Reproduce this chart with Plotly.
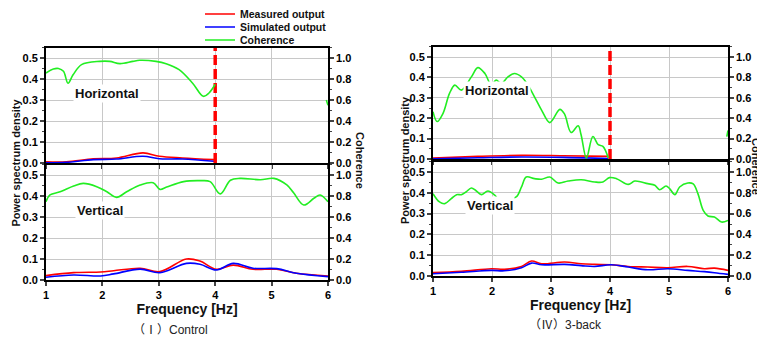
import plotly.graph_objects as go

# ---------------- data ----------------
cutoff_hz = 4.0

# (I) Control - Horizontal
c_h_coh_f = [1.0, 1.13, 1.22, 1.31, 1.39, 1.48, 1.63, 1.95, 2.13, 2.31, 2.54, 2.66, 2.95, 3.13, 3.36, 3.6, 3.79, 3.89, 4.0]
c_h_coh = [0.857, 0.895, 0.9, 0.873, 0.76, 0.84, 0.937, 0.968, 0.968, 0.946, 0.968, 0.978, 0.968, 0.946, 0.889, 0.76, 0.635, 0.667, 0.75]
c_h_f = [1.0, 1.36, 1.84, 2.25, 2.72, 3.01, 3.42, 3.98]
c_h_meas = [0.006, 0.006, 0.02, 0.024, 0.048, 0.032, 0.024, 0.016]
c_h_sim = [0.001, 0.003, 0.016, 0.019, 0.032, 0.02, 0.019, 0.008]
c_h_tail_f = [5.97, 6.0]
c_h_tail = [0.6, 0.55]

# (I) Control - Vertical
c_v_coh_f = [1.0, 1.07, 1.25, 1.49, 1.66, 1.9, 2.08, 2.25, 2.43, 2.67, 2.9, 3.02, 3.14, 3.44, 3.73, 3.91, 4.09,
             4.27, 4.44, 4.8, 5.04, 5.27, 5.39, 5.57, 5.75, 5.86, 6.0]
c_v_coh = [0.746, 0.81, 0.84, 0.895, 0.92, 0.889, 0.84, 0.787, 0.84, 0.905, 0.927, 0.863, 0.885, 0.937, 0.946, 0.937, 0.82,
           0.95, 0.968, 0.955, 0.968, 0.905, 0.83, 0.714, 0.778, 0.81, 0.746]
c_v_f = [1.0, 1.49, 1.97, 2.2, 2.67, 3.02, 3.49, 3.73, 4.02, 4.32, 4.67, 5.09, 5.44, 6.0]
c_v_meas = [0.021, 0.035, 0.038, 0.044, 0.056, 0.04, 0.1, 0.09, 0.051, 0.071, 0.051, 0.051, 0.032, 0.019]
c_v_sim = [0.013, 0.024, 0.019, 0.029, 0.052, 0.035, 0.079, 0.075, 0.048, 0.079, 0.056, 0.054, 0.032, 0.016]

# (IV) 3-back - Horizontal
b_h_coh_f = [1.0, 1.07, 1.17, 1.28, 1.37, 1.48, 1.65, 1.76, 1.88, 1.99, 2.07, 2.16, 2.27, 2.38, 2.5, 2.61, 2.72,
             2.84, 2.98, 3.15, 3.23, 3.34, 3.46, 3.51, 3.6, 3.71, 3.8, 3.88, 3.97]
b_h_coh = [0.464, 0.367, 0.448, 0.643, 0.724, 0.675, 0.805, 0.896, 0.838, 0.724, 0.773, 0.74, 0.805, 0.838, 0.805,
           0.724, 0.61, 0.48, 0.357, 0.487, 0.44, 0.26, 0.325, 0.237, 0.01, 0.22, 0.14, 0.123, 0.01]
b_h_f = [1.0, 1.76, 2.5, 3.2, 3.97]
b_h_meas = [0.005, 0.013, 0.018, 0.016, 0.013]
b_h_sim = [0.001, 0.006, 0.01, 0.008, 0.002]
b_h_tail_f = [5.98, 6.0]
b_h_tail = [0.22, 0.28]

# (IV) 3-back - Vertical
b_v_coh_f = [1.0, 1.11, 1.2, 1.31, 1.4, 1.48, 1.56, 1.65, 1.73, 1.82, 1.93, 2.05, 2.1, 2.19, 2.27, 2.41, 2.5, 2.58,
             2.72, 2.84, 2.98, 3.12, 3.29, 3.51, 3.74, 3.88, 3.99, 4.11, 4.31, 4.42, 4.64, 4.76, 4.84, 4.95, 5.01,
             5.1, 5.18, 5.32, 5.41, 5.49, 5.58, 5.66, 5.77, 5.89, 6.0]
b_v_coh = [0.792, 0.712, 0.696, 0.744, 0.782, 0.782, 0.808, 0.846, 0.82, 0.782, 0.817, 0.776, 0.744, 0.752, 0.744,
           0.76, 0.856, 0.952, 0.936, 0.93, 0.952, 0.894, 0.913, 0.926, 0.904, 0.904, 0.946, 0.936, 0.881, 0.913,
           0.888, 0.872, 0.83, 0.865, 0.84, 0.782, 0.856, 0.894, 0.885, 0.792, 0.631, 0.577, 0.567, 0.519, 0.535]
b_v_f = [1.0, 1.48, 1.99, 2.21, 2.5, 2.67, 2.84, 3.23, 3.51, 3.74, 4.02, 4.31, 4.64, 4.98, 5.32, 5.6, 5.77, 6.0]
b_v_meas = [0.016, 0.022, 0.035, 0.032, 0.046, 0.072, 0.059, 0.067, 0.059, 0.056, 0.054, 0.046, 0.043, 0.04, 0.046,
            0.035, 0.038, 0.027]
b_v_sim = [0.011, 0.018, 0.027, 0.025, 0.04, 0.062, 0.054, 0.056, 0.05, 0.046, 0.054, 0.043, 0.03, 0.035, 0.027,
           0.021, 0.016, 0.008]

x_ticks = [1, 2, 3, 4, 5, 6]
psd_ticks = [0.0, 0.1, 0.2, 0.3, 0.4, 0.5]
coh_ticks = [0.0, 0.2, 0.4, 0.6, 0.8, 1.0]

RED = "#ff0000"
BLUE = "#0000ff"
GREEN = "#22ee22"
FONT = "Liberation Sans"

# the page body has an 8px default margin: lay out in window pixels, offset by it
OFF = 8
W, H = 765 - OFF, 341 - OFF


def px(x):
    return (x - OFF) / W


def py(y):
    return 1 - (y - OFF) / H


fig = go.Figure()

# panel geometry (window pixels)
panels = [
    dict(x0=46, x1=328, top=(47.5, 163), bot=(164.5, 280)),
    dict(x0=433, x1=728, top=(46.8, 159), bot=(161.6, 276)),
]

datasets = [
    [(c_h_f, c_h_meas, c_h_sim, c_h_coh_f, c_h_coh, (c_h_tail_f, c_h_tail)),
     (c_v_f, c_v_meas, c_v_sim, c_v_coh_f, c_v_coh, None)],
    [(b_h_f, b_h_meas, b_h_sim, b_h_coh_f, b_h_coh, (b_h_tail_f, b_h_tail)),
     (b_v_f, b_v_meas, b_v_sim, b_v_coh_f, b_v_coh, None)],
]

tickfont = dict(family=FONT, size=11, color="black", weight="bold")
layout_axes = {}
idx = 0
first = True
for p_i, panel in enumerate(panels):
    for s_i, key in enumerate(["top", "bot"]):
        idx += 1
        xa = f"x{idx}" if idx > 1 else "x"
        ya = f"y{idx}" if idx > 1 else "y"
        ya2_n = idx + 4
        ya2 = f"y{ya2_n}"
        y_top, y_bot = panel[key]
        xdom = [px(panel["x0"]), px(panel["x1"])]
        ydom = [py(y_bot), py(y_top)]
        is_bottom = key == "bot"
        layout_axes[f"xaxis{idx if idx > 1 else ''}"] = dict(
            domain=xdom, anchor=ya, range=[1, 6], tickvals=x_ticks,
            showticklabels=is_bottom, ticks="outside", ticklen=4, tickwidth=1.5,
            showline=True, linecolor="black", linewidth=1.8, mirror=True,
            showgrid=True, gridcolor="#c8c8c8", gridwidth=1, zeroline=False,
            tickfont=tickfont,
            title=dict(text="Frequency [Hz]", font=dict(family=FONT, size=14, weight="bold", color="#111111"),
                       standoff=0) if is_bottom else None,
        )
        layout_axes[f"yaxis{idx if idx > 1 else ''}"] = dict(
            domain=ydom, anchor=xa, range=[0, 0.55], tickvals=psd_ticks, tickformat=".1f",
            ticks="outside", ticklen=4, tickwidth=1.5,
            minor=dict(ticks="outside", ticklen=2, dtick=0.05, tickwidth=1, showgrid=False),
            showline=True, linecolor="black", linewidth=1.8, mirror=True,
            showgrid=True, gridcolor="#c8c8c8", gridwidth=1, zeroline=False,
            tickfont=tickfont,
        )
        layout_axes[f"yaxis{ya2_n}"] = dict(
            domain=ydom, anchor=xa, overlaying=ya, side="right", range=[0, 1.1],
            tickvals=coh_ticks, tickformat=".1f",
            ticks="outside", ticklen=4, tickwidth=1.5,
            minor=dict(ticks="outside", ticklen=2, dtick=0.1, tickwidth=1, showgrid=False),
            showline=True, linecolor="black", linewidth=1.8, showgrid=False, zeroline=False,
            tickfont=tickfont,
        )

        f, meas, sim, cf, coh, tail = datasets[p_i][s_i]
        fig.add_trace(go.Scatter(x=f, y=meas, mode="lines", line=dict(color=RED, width=1.6, shape="spline"),
                                 name="Measured output", showlegend=first, legend="legend",
                                 xaxis=xa, yaxis=ya))
        fig.add_trace(go.Scatter(x=f, y=sim, mode="lines", line=dict(color=BLUE, width=1.6, shape="spline"),
                                 name="Simulated output", showlegend=first, legend="legend2",
                                 xaxis=xa, yaxis=ya))
        fig.add_trace(go.Scatter(x=cf, y=coh, mode="lines", line=dict(color=GREEN, width=1.6, shape="spline"),
                                 name="Coherence", showlegend=first, legend="legend3",
                                 xaxis=xa, yaxis=ya2))
        if tail is not None:
            fig.add_trace(go.Scatter(x=tail[0], y=tail[1], mode="lines", line=dict(color=GREEN, width=1.6),
                                     showlegend=False, xaxis=xa, yaxis=ya2))
        if key == "top":
            fig.add_trace(go.Scatter(x=[cutoff_hz, cutoff_hz], y=[0, 0.55], mode="lines",
                                     line=dict(color=RED, width=3.5, dash="10px,4px"),
                                     showlegend=False, xaxis=xa, yaxis=ya))
        first = False

# region labels
labels = [
    ("Horizontal", "x", "y", 2.08, 0.333),
    ("Vertical", "x2", "y2", 1.95, 0.333),
    ("Horizontal", "x3", "y3", 2.08, 0.335),
    ("Vertical", "x4", "y4", 1.96, 0.338),
]
annotations = []
for text, xr, yr, xv, yv in labels:
    annotations.append(dict(text=text, xref=xr, yref=yr, x=xv, y=yv, showarrow=False,
                            xanchor="center", yanchor="middle",
                            bgcolor="white", borderpad=1,
                            font=dict(family=FONT, size=13, weight="bold", color="#111111")))

axis_title_font = dict(family=FONT, size=11, weight="bold", color="#111111")
for cx, cy in [(15.5, 163), (405, 160)]:
    annotations.append(dict(text="Power spectrum density", xref="paper", yref="paper", x=px(cx), y=py(cy),
                            xanchor="center", yanchor="middle", borderpad=0,
                            textangle=-90, showarrow=False, font=axis_title_font))
for cx, cy in [(360, 160), (756, 166)]:
    annotations.append(dict(text="Coherence", xref="paper", yref="paper", x=px(cx), y=py(cy),
                            xanchor="center", yanchor="middle", borderpad=0,
                            textangle=90, showarrow=False, font=axis_title_font))
captions = [("（Ⅰ）Control", 170, 330), ("（Ⅳ）3-back", 565, 325)]
for text, cx, cy in captions:
    annotations.append(dict(text=text, xref="paper", yref="paper", x=px(cx), y=py(cy), showarrow=False,
                            xanchor="center", yanchor="middle",
                            font=dict(family="Liberation Sans, Noto Sans CJK JP", size=12, color="#222222")))

legend_font = dict(family=FONT, size=10.5, weight="bold", color="#111111")
legend_rows = {"legend": 14, "legend2": 27, "legend3": 40}
legend_layout = {}
for name, row_y in legend_rows.items():
    legend_layout[name] = dict(x=px(200), y=py(row_y), xanchor="left", yanchor="middle",
                               bgcolor="rgba(0,0,0,0)", font=legend_font, itemwidth=30,
                               borderwidth=0, tracegroupgap=0)

fig.update_layout(
    width=W, height=H,
    margin=dict(l=0, r=0, t=0, b=0, autoexpand=False),
    paper_bgcolor="white", plot_bgcolor="white",
    showlegend=True,
    annotations=annotations,
    **legend_layout,
    **layout_axes,
)

fig.write_html("out.html")
